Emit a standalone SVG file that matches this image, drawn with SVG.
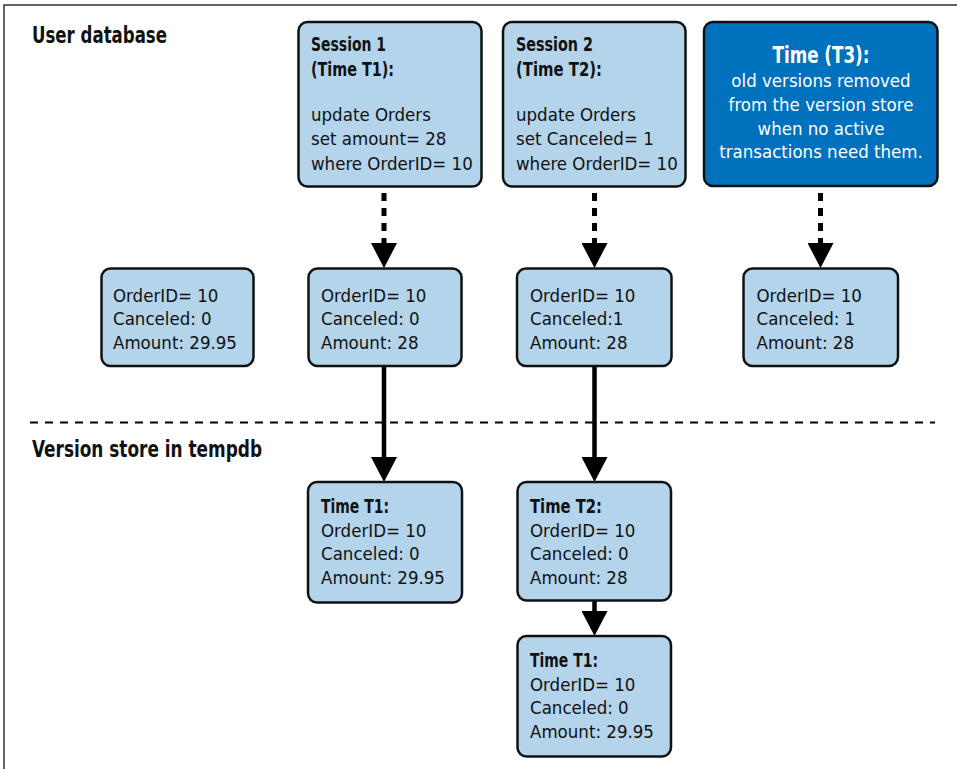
<svg xmlns="http://www.w3.org/2000/svg" width="957" height="769" viewBox="0 0 957 769">
  <defs>
    <style>
      .box { fill: #B3D4EA; stroke: #111; stroke-width: 2.5; }
      .dark { fill: #0071BC; stroke: #111; stroke-width: 2.5; }
      text { font-family: "DejaVu Sans Condensed", "DejaVu Sans", sans-serif; font-stretch: condensed; fill: #111; }
      .t { font-size: 18.5px; }
      .b { font-size: 20px; font-weight: bold; }
      .h { font-size: 23.5px; font-weight: bold; }
      .w { fill: #fff; font-size: 18.5px; text-anchor: middle; }
      .wb { fill: #fff; font-size: 23px; font-weight: bold; text-anchor: middle; }
      .solid { stroke: #000; stroke-width: 4.5; fill: none; }
      .dotted { stroke: #000; stroke-width: 5; fill: none; stroke-dasharray: 8 7; }
      .sep { stroke: #000; stroke-width: 2; stroke-dasharray: 8 7; fill: none; }
      .frame { stroke: #333; stroke-width: 1.5; fill: none; }
    </style>
    <marker id="ah" viewBox="0 0 25 26" refX="0" refY="13" markerWidth="25" markerHeight="26" markerUnits="userSpaceOnUse" orient="auto">
      <path d="M0,0 L25,13 L0,26 z" fill="#000"/>
    </marker>
  </defs>

  <g id="frame">
    <path class="frame" d="M4,769 V5 H957"/>
  </g>

  <g id="labels">
    <text class="h" x="32" y="43" textLength="135" lengthAdjust="spacingAndGlyphs">User database</text>
    <text class="h" x="32" y="457" textLength="230" lengthAdjust="spacingAndGlyphs">Version store in tempdb</text>
  </g>

  <g id="connectors">
    <line class="sep" x1="30" y1="422.5" x2="935" y2="422.5"/>
    <line class="dotted" x1="384" y1="193" x2="384" y2="243" marker-end="url(#ah)"/>
    <line class="dotted" x1="594.5" y1="193" x2="594.5" y2="243" marker-end="url(#ah)"/>
    <line class="dotted" x1="820.5" y1="193" x2="820.5" y2="243" marker-end="url(#ah)"/>
    <line class="solid" x1="384" y1="367" x2="384" y2="457" marker-end="url(#ah)"/>
    <line class="solid" x1="594.5" y1="367" x2="594.5" y2="457" marker-end="url(#ah)"/>
    <line class="solid" x1="594.5" y1="601" x2="594.5" y2="611" marker-end="url(#ah)"/>
  </g>

  <g id="session1">
    <rect class="box" x="298.5" y="22" width="183" height="164.5" rx="9"/>
    <text class="b" x="311" y="51" textLength="75" lengthAdjust="spacingAndGlyphs">Session 1</text>
    <text class="b" x="311" y="76" textLength="83" lengthAdjust="spacingAndGlyphs">(Time T1):</text>
    <text class="t" x="311" y="121">update Orders</text>
    <text class="t" x="311" y="145">set amount= 28</text>
    <text class="t" x="311" y="170">where OrderID= 10</text>
  </g>

  <g id="session2">
    <rect class="box" x="503" y="22" width="182.5" height="164.5" rx="9"/>
    <text class="b" x="516" y="51" textLength="77" lengthAdjust="spacingAndGlyphs">Session 2</text>
    <text class="b" x="516" y="76" textLength="86" lengthAdjust="spacingAndGlyphs">(Time T2):</text>
    <text class="t" x="516" y="121">update Orders</text>
    <text class="t" x="516" y="145">set Canceled= 1</text>
    <text class="t" x="516" y="170">where OrderID= 10</text>
  </g>

  <g id="time3">
    <rect class="dark" x="704" y="22" width="233.5" height="164" rx="9"/>
    <text class="wb" x="821" y="63" textLength="97" lengthAdjust="spacingAndGlyphs">Time (T3):</text>
    <text class="w" x="821" y="87">old versions removed</text>
    <text class="w" x="821" y="111">from the version store</text>
    <text class="w" x="821" y="135">when no active</text>
    <text class="w" x="821" y="158">transactions need them.</text>
  </g>

  <g id="rowA">
    <rect class="box" x="101.5" y="268.5" width="152" height="97.5" rx="9"/>
    <text class="t" x="113" y="302">OrderID= 10</text>
    <text class="t" x="113" y="325">Canceled: 0</text>
    <text class="t" x="113" y="349">Amount: 29.95</text>
  </g>

  <g id="rowB">
    <rect class="box" x="308.5" y="268.5" width="153" height="97.5" rx="9"/>
    <text class="t" x="321" y="302">OrderID= 10</text>
    <text class="t" x="321" y="325">Canceled: 0</text>
    <text class="t" x="321" y="349">Amount: 28</text>
  </g>

  <g id="rowC">
    <rect class="box" x="517" y="268.5" width="154.5" height="97.5" rx="9"/>
    <text class="t" x="530" y="302">OrderID= 10</text>
    <text class="t" x="530" y="325">Canceled:1</text>
    <text class="t" x="530" y="349">Amount: 28</text>
  </g>

  <g id="rowD">
    <rect class="box" x="743.5" y="268.5" width="154.5" height="97.5" rx="9"/>
    <text class="t" x="756.5" y="302">OrderID= 10</text>
    <text class="t" x="756.5" y="325">Canceled: 1</text>
    <text class="t" x="756.5" y="349">Amount: 28</text>
  </g>

  <g id="verT1">
    <rect class="box" x="308" y="482" width="154" height="120.5" rx="9"/>
    <text class="b" x="321" y="513" textLength="68" lengthAdjust="spacingAndGlyphs">Time T1:</text>
    <text class="t" x="321" y="537">OrderID= 10</text>
    <text class="t" x="321" y="560">Canceled: 0</text>
    <text class="t" x="321" y="584">Amount: 29.95</text>
  </g>

  <g id="verT2">
    <rect class="box" x="517.5" y="482" width="153.5" height="118.5" rx="9"/>
    <text class="b" x="530" y="513" textLength="72" lengthAdjust="spacingAndGlyphs">Time T2:</text>
    <text class="t" x="530" y="537">OrderID= 10</text>
    <text class="t" x="530" y="560">Canceled: 0</text>
    <text class="t" x="530" y="584">Amount: 28</text>
  </g>

  <g id="verT1b">
    <rect class="box" x="517.5" y="636" width="153.5" height="120.5" rx="9"/>
    <text class="b" x="530" y="667" textLength="68" lengthAdjust="spacingAndGlyphs">Time T1:</text>
    <text class="t" x="530" y="691">OrderID= 10</text>
    <text class="t" x="530" y="714">Canceled: 0</text>
    <text class="t" x="530" y="738">Amount: 29.95</text>
  </g>
</svg>
